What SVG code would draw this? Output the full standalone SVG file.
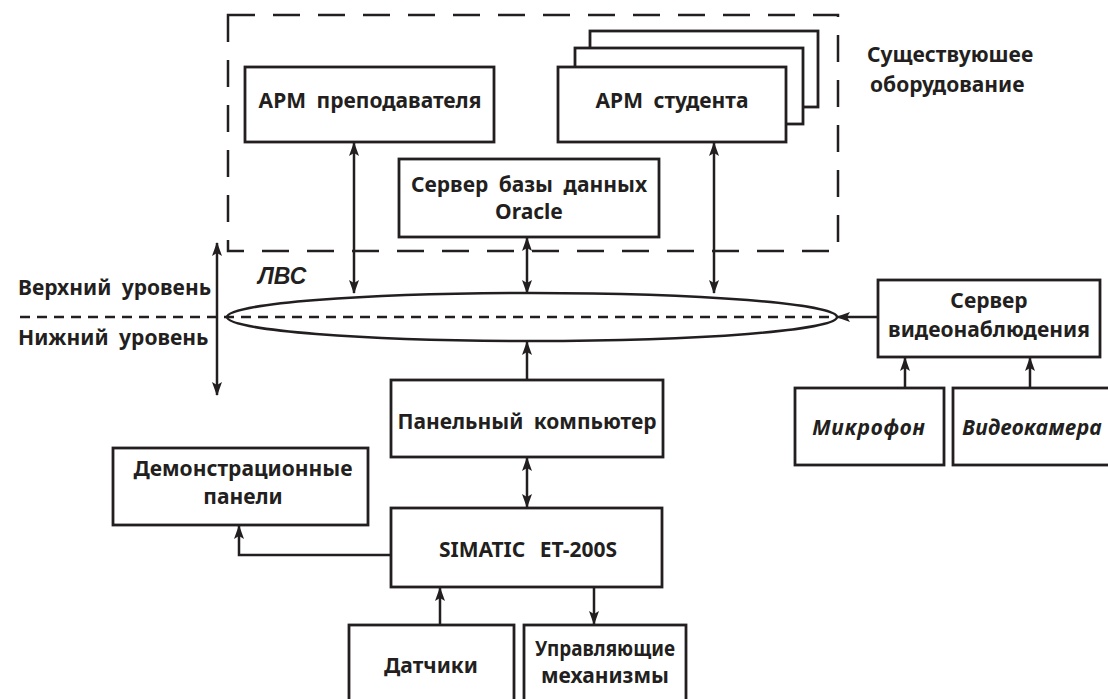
<svg xmlns="http://www.w3.org/2000/svg" width="1108" height="699" viewBox="0 0 1108 699">
<defs>
<marker id="ah" viewBox="0 0 14 10" refX="13" refY="5" markerWidth="14" markerHeight="10" markerUnits="userSpaceOnUse" orient="auto-start-reverse">
<path d="M0,0 L14,5 L0,10 L3,5 Z" fill="#231f20"/>
</marker>
</defs>
<style>
.b{fill:#fff;stroke:#231f20;stroke-width:2.8}
.t{font-family:"Noto Sans","Liberation Sans",sans-serif;font-weight:700;font-size:21px;fill:#231f20;text-anchor:middle;word-spacing:5px}
.ti{font-style:italic}
.s{text-anchor:start}
.l{fill:none;stroke:#231f20;stroke-width:2.5}
.a{marker-end:url(#ah)}
.d{marker-start:url(#ah);marker-end:url(#ah)}
</style>
<rect width="1108" height="699" fill="#fff"/>

<g id="existing">
<rect x="228" y="15" width="610" height="236" fill="none" stroke="#231f20" stroke-width="2.5" stroke-dasharray="27 18"/>
<text class="t s" x="867" y="62">Существуюшее</text>
<text class="t s" x="870" y="92">оборудование</text>
</g>

<g id="arm-teacher">
<rect class="b" x="245" y="67" width="249" height="75"/>
<text class="t" x="370" y="108">АРМ преподавателя</text>
</g>

<g id="arm-student">
<rect class="b" x="590" y="31" width="228" height="76"/>
<rect class="b" x="575" y="48" width="228" height="76"/>
<rect class="b" x="558" y="67" width="228" height="75"/>
<text class="t" x="672" y="108">АРМ студента</text>
</g>

<g id="db-server">
<rect class="b" x="399" y="159" width="260" height="78"/>
<text class="t" x="529" y="192">Сервер базы данных</text>
<text class="t" x="529" y="219">Oracle</text>
</g>

<g id="levels">
<line x1="20" y1="317" x2="836" y2="317" stroke="#231f20" stroke-width="2.5" stroke-dasharray="10 7"/>
<text class="t s" x="18" y="295">Верхний уровень</text>
<text class="t s" x="18" y="345">Нижний уровень</text>
</g>

<g id="lan">
<ellipse cx="532" cy="317" rx="305" ry="24" fill="none" stroke="#231f20" stroke-width="2.5"/>
<text x="258" y="284" style="font-family:'Liberation Sans',Arial,sans-serif;font-weight:700;font-style:italic;font-size:23px;fill:#231f20">ЛВС</text>
</g>

<g id="video-server">
<rect class="b" x="878" y="280" width="222" height="77"/>
<text class="t" x="989" y="308">Сервер</text>
<text class="t" x="989" y="337">видеонаблюдения</text>
</g>

<g id="mic">
<rect class="b" x="795" y="388" width="149" height="77"/>
<text class="t ti" x="869" y="435" style="letter-spacing:0.8px">Микрофон</text>
</g>

<g id="camera">
<rect class="b" x="953" y="388" width="160" height="77"/>
<text class="t ti" x="1032" y="435" style="letter-spacing:0.4px">Видеокамера</text>
</g>

<g id="panel-pc">
<rect class="b" x="391" y="380" width="272" height="77"/>
<text class="t" x="527" y="429">Панельный компьютер</text>
</g>

<g id="demo">
<rect class="b" x="113" y="448" width="255" height="77"/>
<text class="t" x="243" y="476">Демонстрационные</text>
<text class="t" x="243" y="504">панели</text>
</g>

<g id="simatic">
<rect class="b" x="391" y="508" width="271" height="79"/>
<text class="t" x="528" y="557" style="word-spacing:9px">SIMATIC ET-200S</text>
</g>

<g id="sensors">
<rect class="b" x="349" y="625" width="165" height="78"/>
<text class="t" x="431" y="673">Датчики</text>
</g>

<g id="actuators">
<rect class="b" x="524" y="625" width="162" height="78"/>
<text class="t" x="605" y="656" textLength="140" lengthAdjust="spacingAndGlyphs">Управляющие</text>
<text class="t" x="605" y="683">механизмы</text>
</g>

<g id="connectors">
<line class="l d" x1="217" y1="243" x2="217" y2="395"/>
<line class="l d" x1="354" y1="143" x2="354" y2="293"/>
<line class="l d" x1="527" y1="238" x2="527" y2="293"/>
<line class="l d" x1="714" y1="143" x2="714" y2="293"/>
<line class="l a" x1="527" y1="380" x2="527" y2="342"/>
<line class="l a" x1="878" y1="317" x2="837" y2="317"/>
<line class="l a" x1="905" y1="388" x2="905" y2="358"/>
<line class="l a" x1="1030" y1="388" x2="1030" y2="358"/>
<line class="l d" x1="527" y1="458" x2="527" y2="507"/>
<polyline class="l a" points="391,555 239,555 239,526"/>
<line class="l a" x1="440" y1="625" x2="440" y2="588"/>
<line class="l a" x1="594" y1="588" x2="594" y2="624"/>
</g>
</svg>
